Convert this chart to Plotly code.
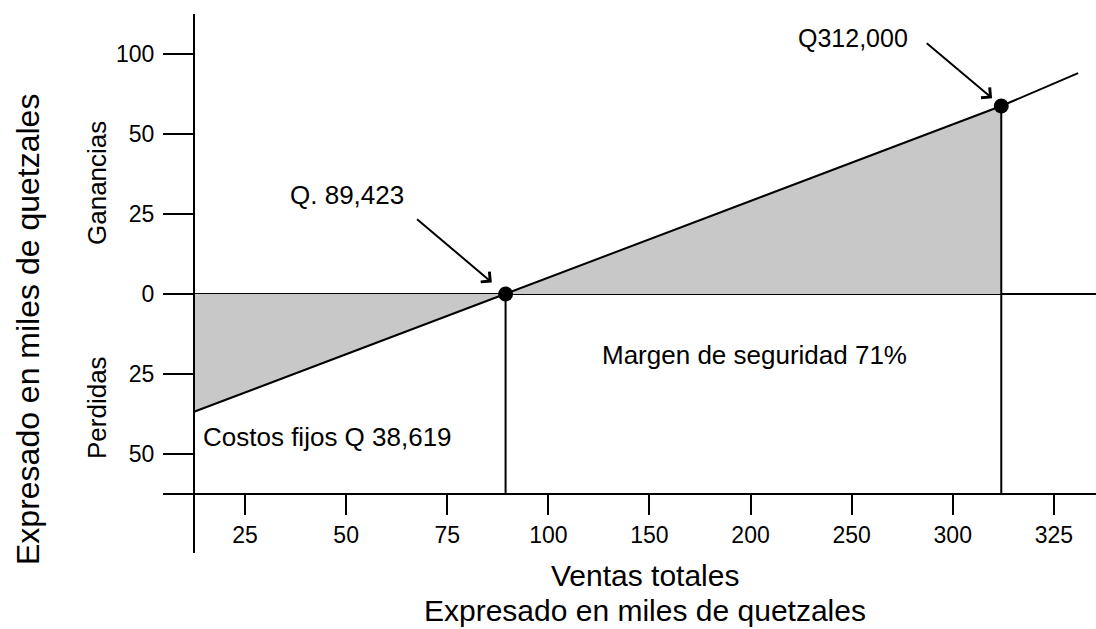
import numpy as np
import plotly.graph_objects as go

# ---------------- data ----------------
x_tick_values = [25, 50, 75, 100, 150, 200, 250, 300, 325]
x_tick_labels = ["25", "50", "75", "100", "150", "200", "250", "300", "325"]
y_tick_values = [-50, -25, 0, 25, 50, 100]
y_tick_labels = ["50", "25", "0", "25", "50", "100"]

break_even_sales = 89.423      # Q. 89,423
actual_sales = 312.0           # Q312,000
fixed_costs = 38.619           # Costos fijos Q 38,619

# result line (miles de Q): sales vs profit / loss
line_sales = [12.0, break_even_sales, actual_sales, 331.0]
line_result = [-37.0, 0.0, 67.5, 88.0]

# ---------------- scale helpers (axes are spaced by tick index) ----------------
def to_pos(vals, ticks):
    ticks = np.asarray(ticks, float)
    idx = np.arange(len(ticks), dtype=float)
    v = np.atleast_1d(np.asarray(vals, float))
    out = np.interp(v, ticks, idx)
    lo = v < ticks[0]
    hi = v > ticks[-1]
    out[lo] = (v[lo] - ticks[0]) / (ticks[1] - ticks[0])
    out[hi] = idx[-1] + (v[hi] - ticks[-1]) / (ticks[-1] - ticks[-2])
    return out

def xp(v):
    return to_pos(v, x_tick_values)

def yp(v):
    return to_pos(v, y_tick_values) - 2  # 0 -> position 0

W, H = 1096, 629
ML, MR, MT, MB = 195, 0, 14, 76
PW, PH = W - ML - MR, H - MT - MB
X_RANGE = [-0.495, 8.417]
Y_RANGE = [-3.2375, 3.5]
AXIS_LEVEL = -2.5  # where the horizontal axis crosses

def px_x(p):
    return (p - ML) / PW

def px_y(p):
    return (H - MB - p) / PH

FONT = "Liberation Sans, Arial, sans-serif"
GREY = "rgb(200,200,200)"

lx = xp(line_sales)
ly = yp(line_result)
be_x = xp([break_even_sales])[0]
as_x = xp([actual_sales])[0]
as_y = yp([line_result[2]])[0]

fig = go.Figure()

# shaded loss triangle
fig.add_trace(go.Scatter(
    x=[lx[0], be_x, lx[0], lx[0]], y=[ly[0], 0, 0, ly[0]],
    fill="toself", fillcolor=GREY, line=dict(width=0), mode="lines",
    hoverinfo="skip", showlegend=False))
# shaded profit triangle
fig.add_trace(go.Scatter(
    x=[be_x, as_x, as_x, be_x], y=[0, as_y, 0, 0],
    fill="toself", fillcolor=GREY, line=dict(width=0), mode="lines",
    hoverinfo="skip", showlegend=False))

# result line
fig.add_trace(go.Scatter(x=lx, y=ly, mode="lines",
                         line=dict(color="black", width=2), showlegend=False))

# vertical drop lines
for xv, yv in [(be_x, 0), (as_x, as_y)]:
    fig.add_trace(go.Scatter(x=[xv, xv], y=[yv, AXIS_LEVEL], mode="lines",
                             line=dict(color="black", width=2), showlegend=False))

# points
fig.add_trace(go.Scatter(x=[be_x, as_x], y=[0, as_y], mode="markers",
                         marker=dict(color="black", size=15), showlegend=False))

# arrows
fig.add_annotation(x=be_x, y=0, ax=-90, ay=-76, text="", showarrow=True,
                   arrowhead=4, arrowsize=1.3, arrowwidth=2, arrowcolor="black",
                   standoff=18)
fig.add_annotation(x=as_x, y=as_y, ax=-76, ay=-64, text="", showarrow=True,
                   arrowhead=4, arrowsize=1.3, arrowwidth=2, arrowcolor="black",
                   standoff=12)

def label(text, x, y, size=26, angle=0, xanchor="center"):
    fig.add_annotation(x=px_x(x), y=px_y(y), xref="paper", yref="paper",
                       text=text, showarrow=False, textangle=angle,
                       xanchor=xanchor, yanchor="middle",
                       font=dict(family=FONT, size=size, color="black"))

label("Q. 89,423", 347, 195)
label("Q312,000", 853, 38, size=25)
label("Margen de seguridad 71%", 754, 355)
label("Costos fijos Q 38,619", 201, 437, xanchor="left")
label("Ganancias", 97, 183, size=26, angle=-90)
label("Perdidas", 97, 408, size=26, angle=-90)
label("Expresado en miles de quetzales", 28, 330, size=32, angle=-90)
label("Ventas totales", 645, 575, size=30)
label("Expresado en miles de quetzales", 645, 610, size=30)

x_axis_pos = (AXIS_LEVEL - Y_RANGE[0]) / (Y_RANGE[1] - Y_RANGE[0])

fig.update_layout(
    width=W, height=H,
    margin=dict(l=ML, r=MR, t=MT, b=MB),
    paper_bgcolor="white", plot_bgcolor="white",
    font=dict(family=FONT, size=23, color="black"),
    xaxis=dict(range=X_RANGE, tickvals=list(range(len(x_tick_values))),
               ticktext=x_tick_labels, anchor="free", position=x_axis_pos,
               showline=True, linecolor="black", linewidth=2,
               ticks="outside", ticklen=20, tickwidth=2, tickcolor="black",
               showgrid=False, zeroline=False,
               tickfont=dict(family=FONT, size=23)),
    yaxis=dict(range=Y_RANGE,
               tickvals=list(yp(y_tick_values)) + [AXIS_LEVEL],
               ticktext=y_tick_labels + [""],
               showline=True, linecolor="black", linewidth=2,
               ticks="outside", ticklen=30, tickwidth=2, tickcolor="black",
               showgrid=False, zeroline=True, zerolinecolor="black",
               zerolinewidth=2, ticklabelstandoff=4,
               tickfont=dict(family=FONT, size=23)),
)

fig.write_html("out.html", config={"displayModeBar": False},
               post_script="document.body.style.margin='0px';")
